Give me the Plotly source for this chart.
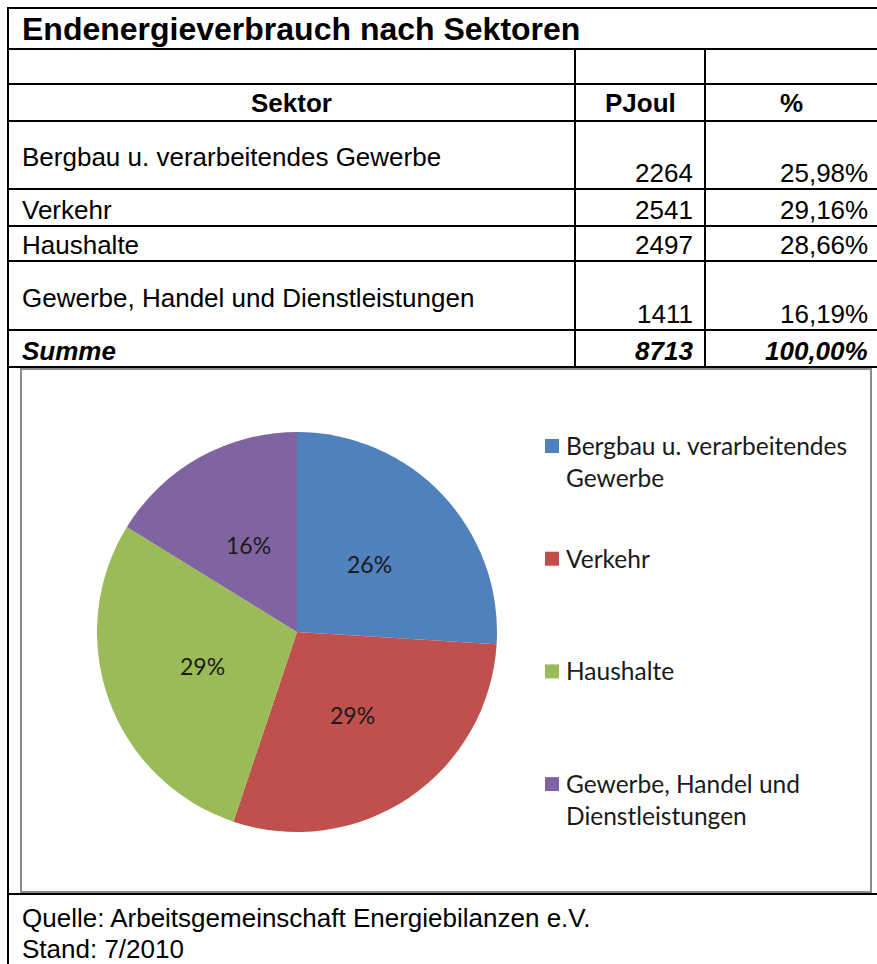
import math
import plotly.graph_objects as go

# ---------------- data ----------------
title = "Endenergieverbrauch nach Sektoren"
header = ["Sektor", "PJoul", "%"]
sectors = ["Bergbau u. verarbeitendes Gewerbe", "Verkehr", "Haushalte",
           "Gewerbe, Handel und Dienstleistungen"]
legend_labels = ["Bergbau u. verarbeitendes<br>Gewerbe", "Verkehr", "Haushalte",
                 "Gewerbe, Handel und<br>Dienstleistungen"]
pjoul = [2264, 2541, 2497, 1411]
percent = [25.98, 29.16, 28.66, 16.19]
sum_label = "Summe"
sum_value = 8713
sum_percent = 100.00
source_lines = ["Quelle: Arbeitsgemeinschaft Energiebilanzen e.V.", "Stand: 7/2010"]
colors = ["#4F81BD", "#C0504D", "#9BBB59", "#8064A2"]

# ---------------- layout helpers ----------------
W, H = 877, 964


def X(px):
    return px / W


def Y(py):
    return 1 - py / H


def fmt_pct(p):
    return f"{p:.2f}".replace(".", ",") + "%"


TABLE_FONT = "Liberation Sans, Arial, sans-serif"
CHART_FONT = "Lato, sans-serif"

shapes = []
annotations = []


def hline(y, x0=8, x1=W, color="black", width=2):
    shapes.append(dict(type="line", xref="paper", yref="paper",
                       x0=X(x0), x1=X(x1), y0=Y(y), y1=Y(y),
                       line=dict(color=color, width=width)))


def vline(x, y0, y1, color="black", width=2):
    shapes.append(dict(type="line", xref="paper", yref="paper",
                       x0=X(x), x1=X(x), y0=Y(y0), y1=Y(y1),
                       line=dict(color=color, width=width)))


def text(t, x, y, xanchor="left", size=26, font=TABLE_FONT, color="black", yanchor="middle"):
    annotations.append(dict(text=t, xref="paper", yref="paper", x=X(x), y=Y(y),
                            xanchor=xanchor, yanchor=yanchor, showarrow=False,
                            align="left",
                            font=dict(family=font, size=size, color=color)))


# chart frame (gray)
shapes.append(dict(type="rect", xref="paper", yref="paper",
                   x0=X(21), x1=X(871), y0=Y(369), y1=Y(892),
                   line=dict(color="#8c8c8c", width=2), fillcolor="rgba(0,0,0,0)"))

# table grid
row_lines = [8, 49, 84, 121, 189, 226, 261, 330, 367]
for yl in row_lines:
    hline(yl)
hline(894)
vline(8, 7, H)
col_lines = [575, 705]
for xl in col_lines:
    vline(xl, 49, 367)

# title + header
text(f"<b>{title}</b>", 20, 29, size=32)
col_centers = [(8 + 575) / 2, (575 + 705) / 2, (705 + 877) / 2]
for h, xc in zip(header, col_centers):
    text(f"<b>{h}</b>", xc, 103, xanchor="center")

# data rows
row_tops = row_lines[3:7]
row_bots = row_lines[4:8]
for s, v, p, t, b in zip(sectors, pjoul, percent, row_tops, row_bots):
    text(s, 20, (t + b) / 2 + 2)
    text(str(v), 695, b - 16, xanchor="right")
    text(fmt_pct(p), 870, b - 16, xanchor="right")

# sum row
text(f"<b><i>{sum_label}</i></b>", 20, 351)
text(f"<b><i>{sum_value}</i></b>", 695, 351, xanchor="right")
text(f"<b><i>{fmt_pct(sum_percent)}</i></b>", 870, 351, xanchor="right")

# source lines
for i, line in enumerate(source_lines):
    text(line, 20, 918 + 31 * i)

# custom legend (wide vertical spacing like the Excel chart)
for i, (lab, col) in enumerate(zip(legend_labels, colors)):
    yc = 446 + 112.7 * i
    shapes.append(dict(type="rect", xref="paper", yref="paper",
                       x0=X(545), x1=X(559), y0=Y(yc - 7), y1=Y(yc + 7),
                       line=dict(width=0), fillcolor=col))
    text(lab, 564, yc - 17, font=CHART_FONT, size=24.5, color="#1a1a1a", yanchor="top")

# ---------------- pie ----------------
cx, cy, r = 297, 632, 200
total = sum(pjoul)

# data labels at half radius on each slice's mid angle (Excel "best fit" style)
cum = 0.0
for v in pjoul:
    frac_mid = (cum + v / 2) / total
    cum += v
    ang = 2 * math.pi * frac_mid
    lx = cx + 0.5 * r * math.sin(ang)
    ly = cy - 0.5 * r * math.cos(ang)
    text(f"{round(100 * v / total)}%", lx, ly, xanchor="center",
         font=CHART_FONT, size=23, color="#1a1a1a")

fig = go.Figure(go.Pie(
    labels=sectors,
    values=pjoul,
    sort=False,
    direction="clockwise",
    rotation=0,
    marker=dict(colors=colors, line=dict(width=0)),
    textinfo="none",
    showlegend=False,
    domain=dict(x=[X(cx - r), X(cx + r)], y=[Y(cy + r), Y(cy - r)]),
))

fig.update_layout(
    width=W, height=H, autosize=False,
    margin=dict(l=0, r=0, t=0, b=0),
    paper_bgcolor="white", plot_bgcolor="white",
    shapes=shapes, annotations=annotations,
    showlegend=False,
)

fig.write_html("out.html", config={"displayModeBar": False},
               post_script="document.body.style.margin='0';document.body.style.padding='0';")
